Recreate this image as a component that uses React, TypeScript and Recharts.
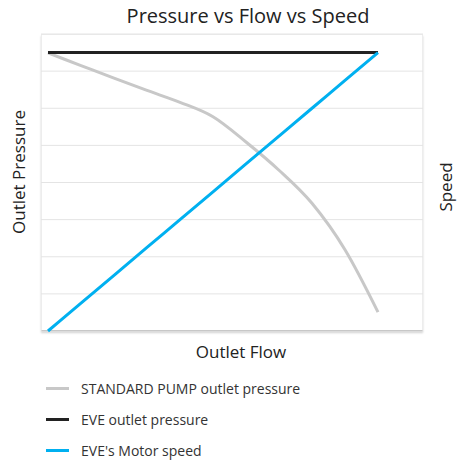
import { LineChart, Line, XAxis, YAxis, CartesianGrid } from "recharts";

const flow = [0, 1, 2, 3, 4, 5, 6, 7, 8, 9, 10];
const standardPump = [7.49, 7.15, 6.81, 6.48, 6.16, 5.77, 5.09, 4.33, 3.44, 2.19, 0.51];
const evePressure = [7.5, 7.5, 7.5, 7.5, 7.5, 7.5, 7.5, 7.5, 7.5, 7.5, 7.5];
const eveSpeed = [0, 0.75, 1.5, 2.25, 3, 3.75, 4.5, 5.25, 6, 6.75, 7.5];
const yTicks = [0, 1, 2, 3, 4, 5, 6, 7, 8];

const SERIES = [
  { key: "standard", name: "STANDARD PUMP outlet pressure", color: "#c8c8c8" },
  { key: "eve", name: "EVE outlet pressure", color: "#222222" },
  { key: "speed", name: "EVE's Motor speed", color: "#00b0f0" },
];

const FONT = '"Open Sans", "DejaVu Sans", sans-serif';

const data = flow.map((f, i) => ({
  flow: f,
  standard: standardPump[i],
  eve: evePressure[i],
  speed: eveSpeed[i],
}));

function LegendRows() {
  return (
    <div style={{ position: "absolute", left: 46, top: 373, fontFamily: FONT, fontSize: 14, color: "#333" }}>
      {SERIES.map((s) => (
        <div key={s.key} style={{ display: "flex", alignItems: "center", height: 31 }}>
          <span style={{ display: "inline-block", width: 23, height: 3, background: s.color, marginRight: 12 }} />
          <span>{s.name}</span>
        </div>
      ))}
    </div>
  );
}

const labelStyle = { position: "absolute" as const, fontFamily: FONT, color: "#222", whiteSpace: "nowrap" as const };

export default function App() {
  return (
    <div style={{ position: "absolute", left: 0, top: 0, width: 461, height: 460, background: "#fff" }}>
      <div
        style={{
          position: "absolute", left: 41, top: 34, width: 382, height: 297,
          boxSizing: "border-box", border: "1px solid #ededed", borderBottom: "1px solid #aaa",
          boxShadow: "0 2px 2px rgba(0,0,0,0.18)", background: "#fff",
        }}
      />
      <div style={{ ...labelStyle, left: 0, width: 496, top: 2, textAlign: "center", fontSize: 20 }}>
        Pressure vs Flow vs Speed
      </div>
      <div style={{ ...labelStyle, left: 0, width: 482, top: 340, textAlign: "center", fontSize: 17 }}>
        Outlet Flow
      </div>
      <div style={{ ...labelStyle, left: 18, top: 172, fontSize: 17, transform: "translate(-50%, -50%) rotate(-90deg)" }}>
        Outlet Pressure
      </div>
      <div style={{ ...labelStyle, left: 445, top: 187, fontSize: 17, transform: "translate(-50%, -50%) rotate(-90deg)" }}>
        Speed
      </div>
      <LineChart
        width={461}
        height={460}
        data={data}
        margin={{ top: 34, right: 38, bottom: 129, left: 41 }}
        style={{ position: "absolute", left: 0, top: 0 }}
      >
        <CartesianGrid vertical={false} stroke="#e4e4e4" />
        <XAxis
          dataKey="flow"
          type="number"
          domain={[-0.212, 11.364]}
          allowDataOverflow
          height={0}
          tick={false}
          axisLine={false}
          tickLine={false}
        />
        <YAxis
          type="number"
          domain={[0, 8]}
          ticks={yTicks}
          width={0}
          tickFormatter={() => ""}
          axisLine={false}
          tickLine={false}
        />
        {SERIES.map((s) => (
          <Line
            key={s.key}
            type="monotone"
            dataKey={s.key}
            name={s.name}
            stroke={s.color}
            strokeWidth={3}
            dot={false}
            activeDot={false}
            isAnimationActive={false}
          />
        ))}
      </LineChart>
      <LegendRows />
    </div>
  );
}
